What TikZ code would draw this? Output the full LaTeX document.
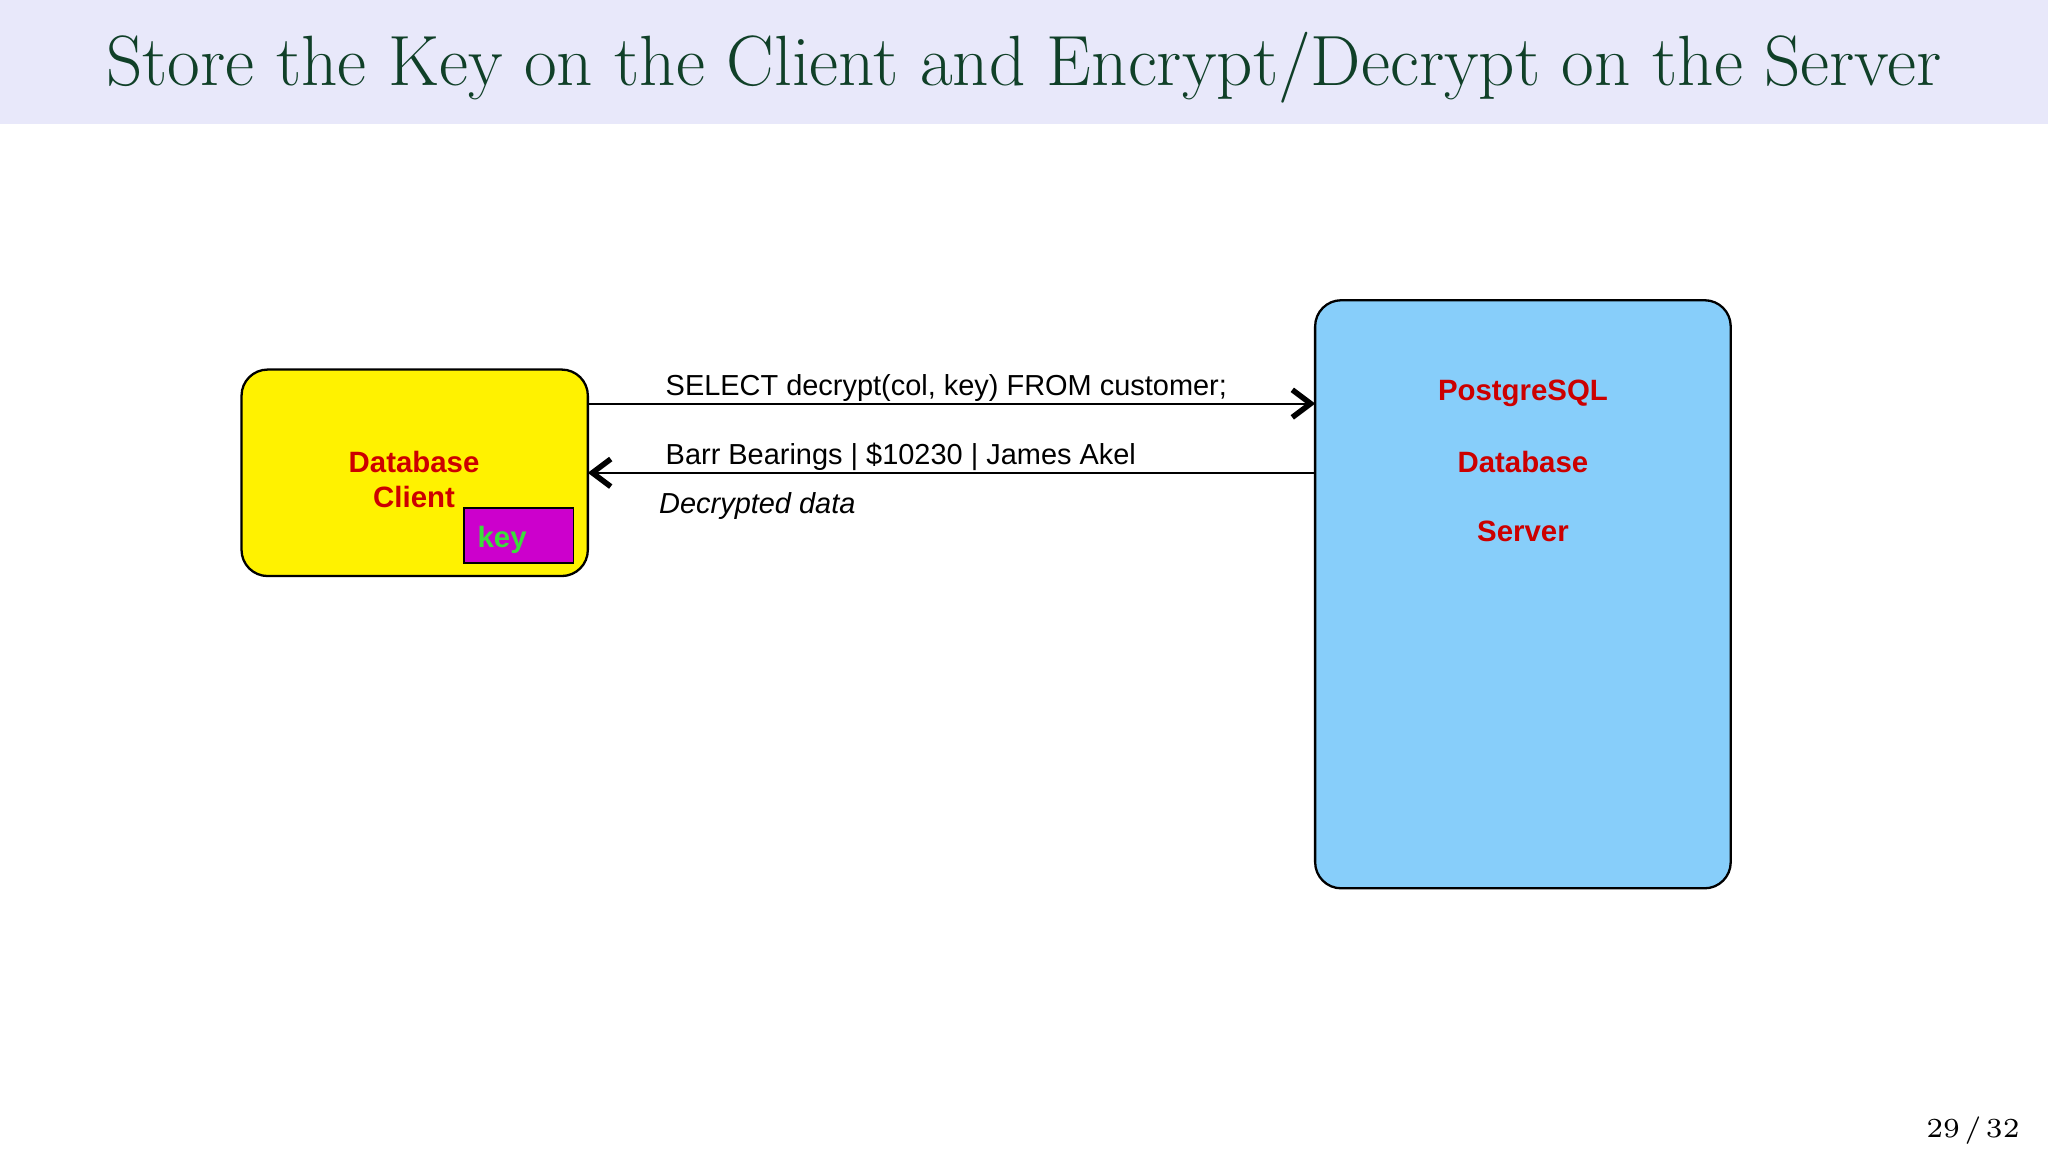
\documentclass[tikz,border=0pt]{standalone}
\usepackage{fontspec}
\setmainfont{Liberation Sans}
\newfontfamily\titlefont{TeX Gyre Heros}
\usetikzlibrary{arrows.meta}
\definecolor{band}{RGB}{232,232,250}
\definecolor{ttl}{RGB}{16,64,40}
\definecolor{lbl}{RGB}{204,0,0}
\definecolor{srv}{RGB}{135,206,250}
\definecolor{mag}{RGB}{204,0,204}
\definecolor{keyg}{RGB}{60,220,60}
\tikzset{
 box/.style={draw=black,line width=0.5pt,rounded corners=0.2cm,inner sep=0},
 lab/.style={font=\fontsize{6.4}{7.5}\selectfont\bfseries,text=lbl,align=center},
 msg/.style={font=\fontsize{6.3}{7.5}\selectfont,anchor=base west,inner sep=0},
 conn/.style={line width=0.45pt,-{Straight Barb[length=4pt,width=6pt,line width=1.2pt]}}
}
\begin{document}
\begin{tikzpicture}[x=0.01cm,y=-0.01cm]
\useasboundingbox (0,0) rectangle (1568,882);
\fill[band] (0,0) rectangle (1568,95);
\node[font=\fontsize{15.5}{18}\selectfont\rmfamily\fontspec{Latin Modern Roman},text=ttl] (title) at (784,52) {Store the Key on the Client and Encrypt/Decrypt on the Server};
\node[box,fill=yellow,minimum width=2.65cm,minimum height=1.58cm] (client) at (317.5,362) {};
\node[lab] (clienttxt) at (317,367) {Database\\Client};
\node[draw=black,line width=0.4pt,fill=mag,minimum width=0.84cm,minimum height=0.42cm,inner sep=0] (key) at (397,410) {};
\node[font=\fontsize{6.4}{7.5}\selectfont\bfseries,text=keyg,anchor=west,inner sep=0] (keytxt) at (365,413) {key};
\node[box,fill=srv,minimum width=3.18cm,minimum height=4.5cm] (server) at (1166,455) {};
\node[lab] (s1) at (1166,301) {PostgreSQL};
\node[lab] (s2) at (1166,354) {Database};
\node[lab] (s3) at (1166,407) {Server};
\coordinate (a1s) at (450,309);
\coordinate (a1e) at (1007,309);
\coordinate (a2s) at (1007,362);
\coordinate (a2e) at (450,362);
\draw[conn] (a1s) -- (a1e);
\draw[conn] (a2s) -- (a2e);
\node[msg] (m1) at (509,303) {SELECT decrypt(col, key) FROM customer;};
\node[msg] (m2) at (509,356) {Barr Bearings | \$10230 | James Akel};
\node[msg,font=\fontsize{6.3}{7.5}\selectfont\itshape] (m3) at (504,393) {Decrypted data};
\node[font=\fontsize{6}{7}\selectfont\fontspec{Latin Modern Roman},anchor=east,inner sep=0] (page) at (1547,866) {29\,/\,32};
\end{tikzpicture}
\end{document}
